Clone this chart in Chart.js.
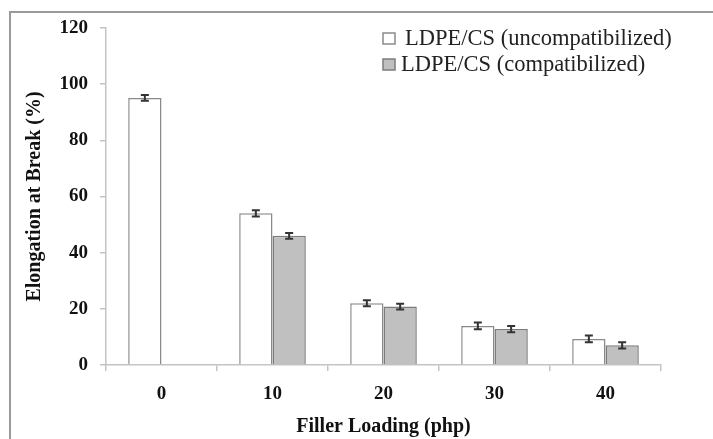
<!DOCTYPE html>
<html>
<head>
<meta charset="utf-8">
<script src="https://cdn.jsdelivr.net/npm/chart.js"></script>
<style>
  html, body { margin: 0; padding: 0; background: #fff; }
  #wrap { position: relative; width: 713px; height: 439px; overflow: hidden; }
  #frame { position: absolute; left: 9px; top: 11px; width: 800px; height: 500px;
           border-left: 2px solid #9a9a9a; border-top: 2px solid #9a9a9a; }
  canvas { position: absolute; left: 0; top: 0; }
</style>
</head>
<body>
<div id="wrap">
  <div id="frame"></div>
  <canvas id="chart" width="713" height="439"></canvas>
</div>
<script>
// filler loading (php)
const categories = ["0", "10", "20", "30", "40"]
const seriesNames = ["LDPE/CS (uncompatibilized)", "LDPE/CS (compatibilized)"]
// elongation at break (%)
const uncompatibilized = [95.1, 54.0, 22.0, 13.9, 9.3]
const compatibilized = [null, 46.0, 20.8, 12.8, 7.0]
// standard deviation
const uncompErr = [1.0, 1.1, 1.1, 1.2, 1.2]
const compErr = [null, 1.0, 1.0, 1.1, 1.1]
const yTicks = [0, 20, 40, 60, 80, 100, 120]

const serif = "'Liberation Serif', 'Times New Roman', serif"

// error bars drawn from the data through the scales
const errorBars = {
  id: "errorBars",
  afterDatasetsDraw(chart) {
    const ctx = chart.ctx
    const y = chart.scales.y
    const errs = [uncompErr, compErr]
    ctx.save()
    ctx.strokeStyle = "#333"
    ctx.lineWidth = 2
    chart.data.datasets.forEach((ds, di) => {
      const meta = chart.getDatasetMeta(di)
      meta.data.forEach((bar, i) => {
        const v = ds.data[i]
        const e = errs[di][i]
        if (v == null || e == null) return
        const x = bar.x
        const top = y.getPixelForValue(v + e)
        const bot = y.getPixelForValue(v - e)
        ctx.beginPath()
        ctx.moveTo(x, top); ctx.lineTo(x, bot)
        ctx.moveTo(x - 4, top); ctx.lineTo(x + 4, top)
        ctx.moveTo(x - 4, bot); ctx.lineTo(x + 4, bot)
        ctx.stroke()
      })
    })
    ctx.restore()
  }
}

// legend in the top right of the plot
const boxLegend = {
  id: "boxLegend",
  afterDraw(chart) {
    const ctx = chart.ctx
    ctx.save()
    ctx.font = "22.5px " + serif
    ctx.textBaseline = "middle"
    chart.data.datasets.forEach((ds, i) => {
      const bx = 383
      const by = 33 + i * 26
      ctx.fillStyle = ds.backgroundColor
      ctx.strokeStyle = ds.borderColor
      ctx.lineWidth = 1.5
      ctx.fillRect(bx, by, 12, 11)
      ctx.strokeRect(bx, by, 12, 11)
      ctx.fillStyle = "#222"
      ctx.fillText(ds.label, i === 0 ? 405 : 401, by + 6)
    })
    ctx.restore()
  }
}

new Chart(document.getElementById("chart"), {
  type: "bar",
  data: {
    labels: categories,
    datasets: [
      {
        label: seriesNames[0],
        data: uncompatibilized,
        backgroundColor: "#ffffff",
        borderColor: "#8a8a8a",
        borderWidth: 1.5,
      },
      {
        label: seriesNames[1],
        data: compatibilized,
        backgroundColor: "#c0c0c0",
        borderColor: "#7c7c7c",
        borderWidth: 1.5,
      },
    ],
  },
  options: {
    responsive: false,
    animation: false,
    categoryPercentage: 0.6,
    barPercentage: 1.0,
    layout: { padding: { left: 23, top: 28, right: 52, bottom: 0 } },
    plugins: { legend: { display: false }, tooltip: { enabled: false } },
    scales: {
      x: {
        afterFit: (s) => { s.height = 439 - 365 },
        grid: { offset: true, drawOnChartArea: false, color: "#c4c4c4", lineWidth: 1.5, tickLength: 6 },
        border: { color: "#c4c4c4", width: 1.5 },
        ticks: { color: "#111", padding: 12, font: { family: serif, size: 19, weight: "bold" } },
        title: {
          display: true,
          text: "Filler Loading (php)",
          color: "#111",
          padding: 0,
          font: { family: serif, size: 20, weight: "bold", lineHeight: 1.2 },
        },
      },
      y: {
        min: 0,
        max: 120,
        afterFit: (s) => { s.width = 106 - 23 },
        afterBuildTicks: (s) => { s.ticks = yTicks.map((v) => ({ value: v })) },
        grid: { drawOnChartArea: false, color: "#c4c4c4", lineWidth: 1.5, tickLength: 6 },
        border: { color: "#c4c4c4", width: 1.5 },
        ticks: { color: "#111", padding: 12, font: { family: serif, size: 19, weight: "bold" } },
        title: {
          display: true,
          text: "Elongation at Break (%)",
          color: "#111",
          padding: 0,
          font: { family: serif, size: 20, weight: "bold", lineHeight: 1.2 },
        },
      },
    },
  },
  plugins: [errorBars, boxLegend],
})
</script>
</body>
</html>
